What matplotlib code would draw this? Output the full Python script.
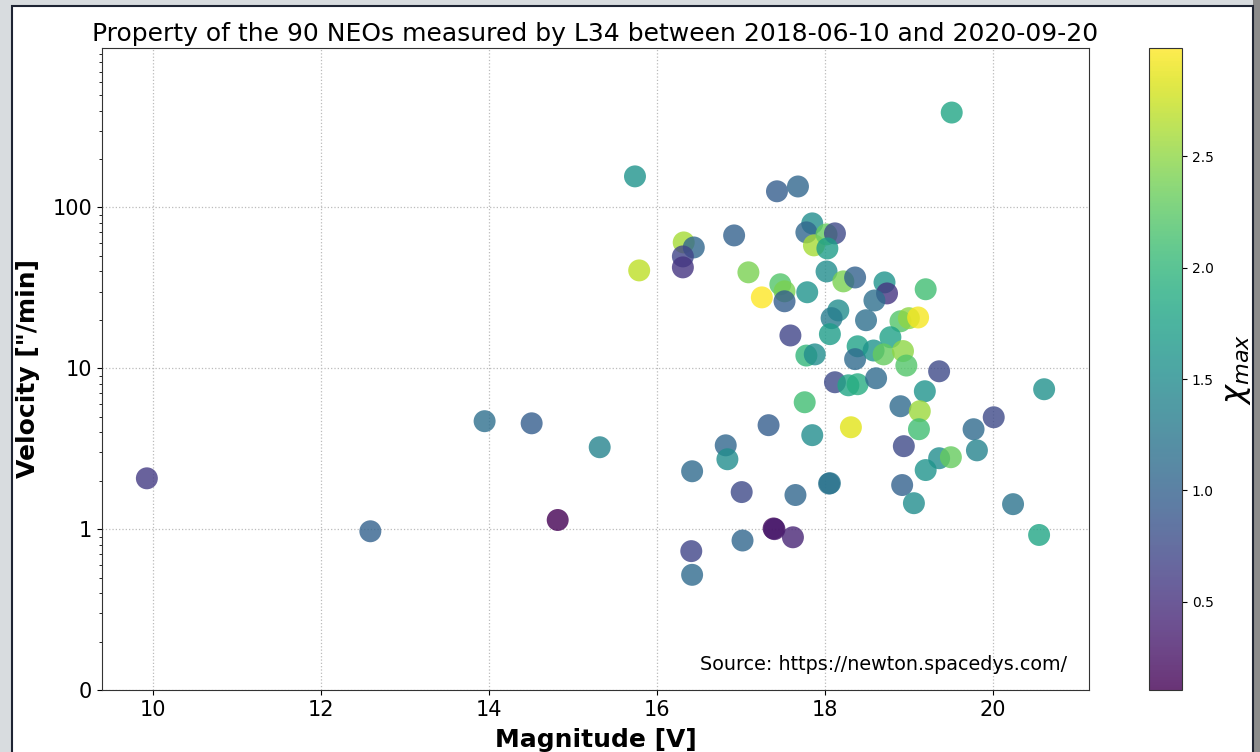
import numpy as np
import matplotlib
matplotlib.use("Agg")
import matplotlib.pyplot as plt
from matplotlib.patches import Rectangle
from matplotlib.ticker import FormatStrFormatter, NullFormatter

# -------------------------------------------------------------
# Data (magnitude V, velocity "/min, chi_max)
# -------------------------------------------------------------
magnitude = [
    9.93, 12.59, 13.95, 14.51, 14.82, 15.32, 15.74, 15.79, 16.32, 16.44,
    16.31, 16.31, 16.42, 16.41, 16.42, 16.92, 16.82, 16.84, 17.01, 17.02,
    17.09, 17.25, 17.33, 17.39, 17.62, 17.43, 17.68, 17.47, 17.52, 17.52,
    17.59, 17.79, 17.85, 17.78, 17.87, 18.02, 18.12, 18.03, 18.02, 18.22,
    18.36, 18.71, 18.74, 18.59, 19.20, 18.16, 18.08, 18.49, 18.90, 19.00,
    19.11, 18.06, 17.78, 17.88, 18.39, 18.36, 18.58, 18.78, 18.70, 18.93,
    18.97, 19.36, 18.12, 18.28, 18.39, 18.61, 19.19, 17.76, 17.85, 18.31,
    18.90, 19.13, 19.12, 18.94, 19.36, 19.50, 19.20, 18.06, 18.05, 17.65,
    18.92, 19.06, 19.77, 19.81, 20.01, 20.24, 20.55, 20.61, 19.51, 17.40,
]
velocity = [
    2.07, 0.97, 4.69, 4.55, 1.14, 3.23, 156, 40.6, 60.6, 56.4,
    49.6, 42.4, 2.29, 0.73, 0.52, 67, 3.32, 2.72, 1.70, 0.85,
    39.5, 27.6, 4.43, 1.01, 0.89, 126, 135, 33.3, 30.1, 26.1,
    16.0, 29.7, 79.6, 70, 58.1, 68, 69, 55.6, 40, 34.7,
    36.7, 34.2, 29.2, 26.4, 31, 22.9, 20.5, 19.9, 19.6, 20.5,
    20.7, 16.3, 12.0, 12.2, 13.7, 11.4, 12.9, 15.6, 12.2, 12.8,
    10.4, 9.58, 8.19, 7.84, 7.96, 8.67, 7.2, 6.15, 3.84, 4.30,
    5.81, 5.41, 4.18, 3.28, 2.76, 2.80, 2.33, 1.93, 1.92, 1.63,
    1.88, 1.45, 4.18, 3.09, 4.96, 1.43, 0.92, 7.41, 389, 1.00,
]
chi_max = [
    0.60, 1.00, 1.15, 0.95, 0.105, 1.40, 1.60, 2.70, 2.60, 1.05,
    0.70, 0.55, 1.10, 0.70, 1.10, 1.00, 1.05, 1.50, 0.75, 1.05,
    2.40, 2.985, 0.95, 0.20, 0.40, 0.95, 1.05, 2.20, 2.40, 0.95,
    0.70, 1.60, 1.50, 1.05, 2.60, 2.30, 0.75, 1.70, 1.50, 2.40,
    1.00, 1.60, 0.55, 1.15, 2.10, 1.50, 1.30, 1.15, 2.20, 2.50,
    2.95, 1.70, 2.00, 1.50, 1.75, 1.10, 1.60, 1.75, 2.30, 2.50,
    2.20, 0.75, 0.75, 1.80, 1.90, 1.10, 1.60, 2.10, 1.50, 2.85,
    1.10, 2.55, 2.10, 0.75, 1.50, 2.30, 1.60, 1.25, 1.20, 1.05,
    1.00, 1.50, 1.10, 1.40, 0.75, 1.20, 1.80, 1.55, 1.80, 0.30,
]

title = "Property of the 90 NEOs measured by L34 between 2018-06-10 and 2020-09-20"
source = "Source: https://newton.spacedys.com/"

# -------------------------------------------------------------
# Figure with window-like frame
# -------------------------------------------------------------
fig = plt.figure(figsize=(12.6, 7.52), dpi=100)
fig.patch.set_facecolor("#d8dcdf")
fig.patches.append(Rectangle((1253 / 1260, 0), 7 / 1260, 1, transform=fig.transFigure,
                             facecolor="#8c8c8c", edgecolor="none", zorder=-3))
fig.patches.append(Rectangle((12 / 1260, -0.05), 1241 / 1260, 1.05 - 6 / 752,
                             transform=fig.transFigure, facecolor="white",
                             edgecolor="#1e2433", linewidth=1.5, zorder=-2))

ax = fig.add_axes([102 / 1260, 62 / 752, 987 / 1260, 642 / 752])
cax = fig.add_axes([1149 / 1260, 62 / 752, 33 / 1260, 642 / 752])

sc = ax.scatter(magnitude, velocity, c=chi_max, cmap="viridis", s=250,
                alpha=0.8, edgecolors="none", zorder=3)

ax.set_yscale("log")
ax.set_ylim(0.1, 980)
ax.yaxis.set_major_formatter(FormatStrFormatter("%d"))
ax.yaxis.set_minor_formatter(NullFormatter())
ax.grid(True, which="major", linestyle=":", color="#bbbbbb", linewidth=0.9)
ax.set_axisbelow(True)

ax.tick_params(axis="both", which="major", labelsize=15)
for sp in ax.spines.values():
    sp.set_color("#333333")

ax.set_title(title, fontsize=18, pad=5)
ax.set_xlabel("Magnitude [V]", fontsize=18, fontweight="bold", labelpad=6)
ax.set_ylabel('Velocity ["/min]', fontsize=18, fontweight="bold", labelpad=9)
ax.text(0.978, 0.025, source, transform=ax.transAxes, ha="right", va="bottom",
        fontsize=13.8)

cb = fig.colorbar(sc, cax=cax)
cb.ax.tick_params(labelsize=10)
cb.set_label(r"$\chi_{max}$", fontsize=23, labelpad=6)
cb.outline.set_edgecolor("#333333")

fig.savefig("out.png", dpi=100, facecolor=fig.get_facecolor())
